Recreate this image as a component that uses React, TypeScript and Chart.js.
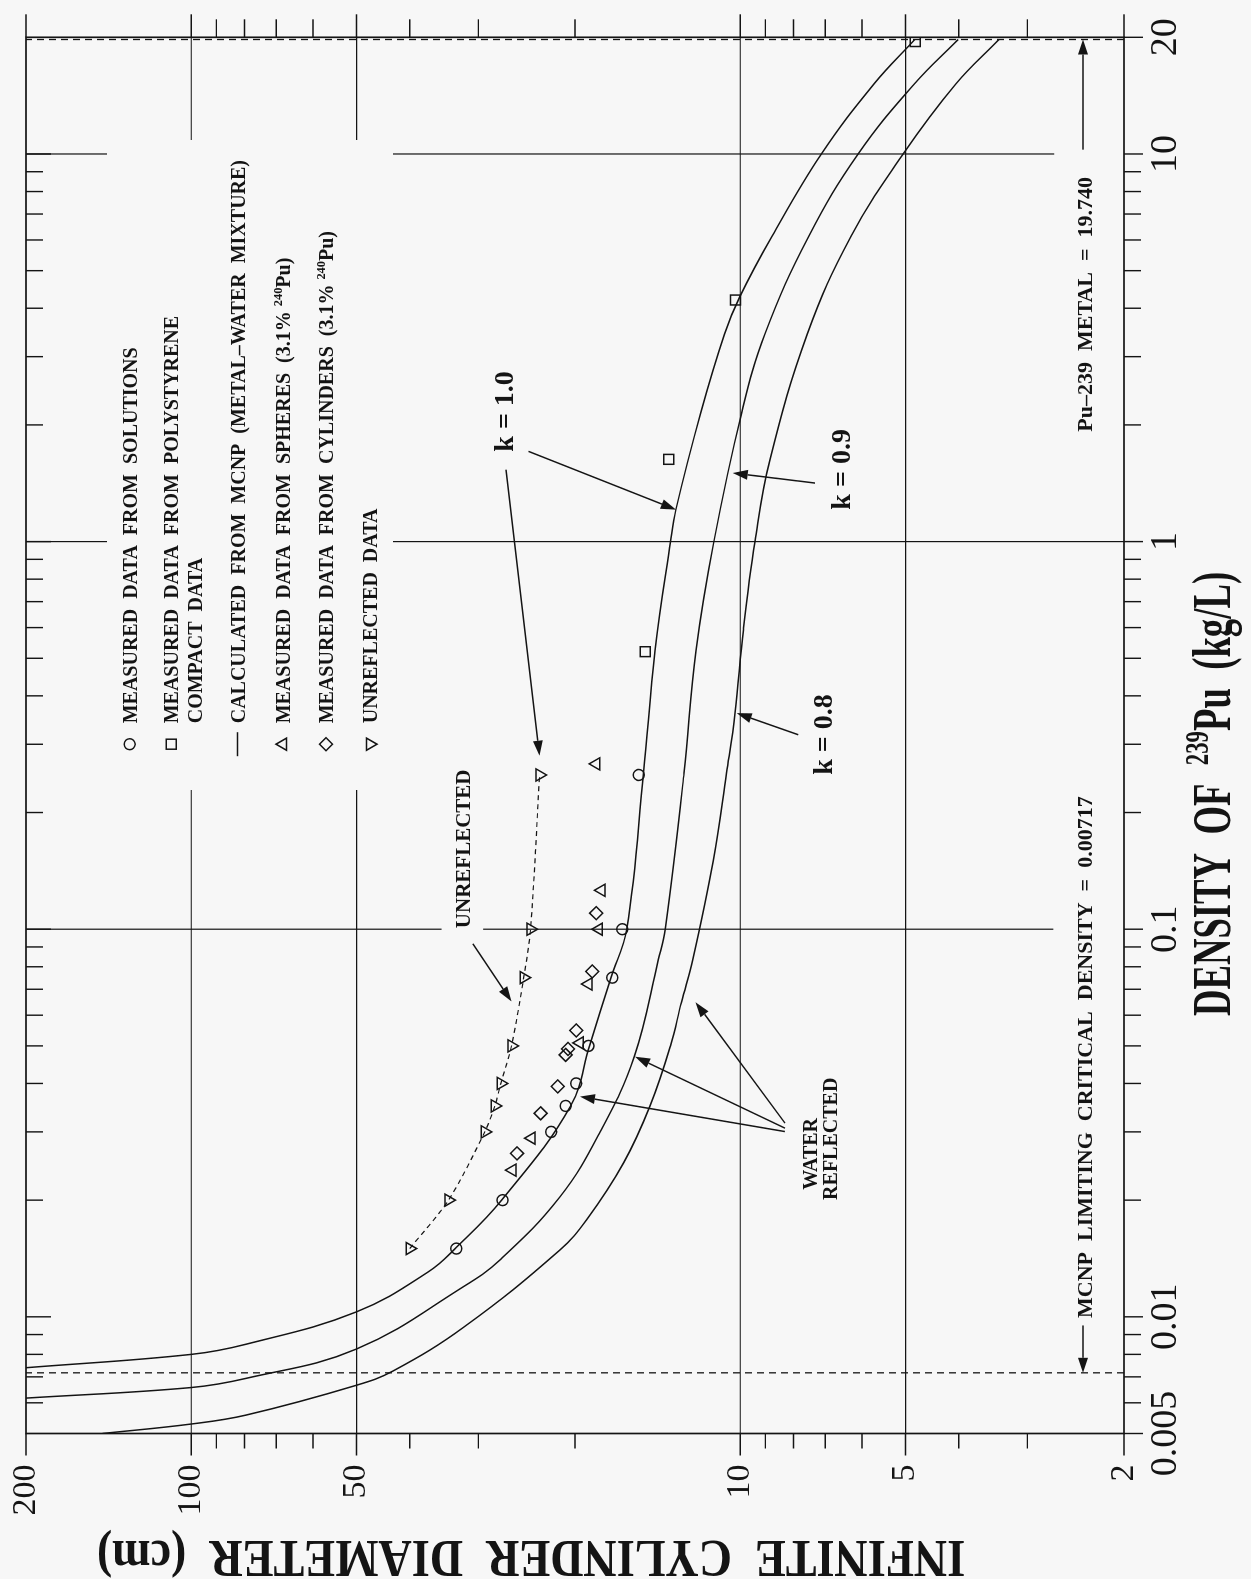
import React, { useEffect, useRef } from 'react';
import { Chart, registerables } from 'chart.js';

Chart.register(...registerables);

// ---------------- data: density of 239Pu (kg/L)  vs  infinite cylinder diameter (cm) ----------------
const K10_DENSITY = [0.00739, 0.008, 0.0085, 0.0103, 0.01308, 0.0151, 0.02, 0.0349, 0.0502, 0.075, 0.1, 0.253, 0.523, 1.0, 1.209, 2.15, 3.43, 4.28, 6.14, 10, 15.15, 19.74];
const K10_DIAMETER = [200, 100, 79.4, 50, 36.96, 32.9, 27.2, 20.4, 18.8, 17.2, 16.1, 15.0, 14.3, 13.4, 13.1, 11.8, 10.68, 10.02, 8.75, 7.12, 5.71, 4.81];

const K09_DENSITY = [0.00617, 0.00657, 0.00694, 0.00826, 0.01197, 0.01402, 0.0204, 0.03, 0.0469, 0.0834, 0.1, 0.253, 0.523, 1.0, 2.15, 3.43, 6.14, 10, 15.15, 19.74];
const K09_DIAMETER = [200, 100, 79.4, 50, 31.9, 27.4, 21.3, 18.0, 15.6, 14.1, 13.7, 12.66, 12.04, 11.17, 9.94, 9.02, 7.5, 6.1, 4.82, 4.01];

const K08_DENSITY = [0.005, 0.00529, 0.00558, 0.00666, 0.00725, 0.00943, 0.01488, 0.0178, 0.025, 0.035, 0.05, 0.0648, 0.0834, 0.15, 0.253, 0.361, 0.592, 1.0, 1.627, 3.43, 6.14, 10, 15.15, 19.74];
const K08_DIAMETER = [145, 100, 79.4, 50, 42.9, 31.8, 21.3, 19.05, 16.3, 14.6, 13.4, 12.8, 12.2, 11.2, 10.59, 10.22, 9.87, 9.4, 8.83, 7.55, 6.28, 5.05, 4.05, 3.38];

const UNREF_DENSITY = [0.015, 0.02, 0.03, 0.035, 0.04, 0.05, 0.075, 0.1, 0.25];
const UNREF_DIAMETER = [40.0, 34.0, 29.2, 28.0, 27.3, 26.1, 24.8, 24.1, 23.2];

const SOL_DENSITY = [0.015, 0.02, 0.03, 0.035, 0.04, 0.05, 0.075, 0.1, 0.25];
const SOL_DIAMETER = [32.9, 27.1, 22.1, 20.8, 19.9, 18.9, 17.1, 16.4, 15.3];

const POLY_DENSITY = [0.52, 1.63, 4.2, 19.5];
const POLY_DIAMETER = [14.9, 13.5, 10.2, 4.8];

const SPH_DENSITY = [0.0239, 0.0289, 0.0509, 0.0722, 0.1, 0.126, 0.267];
const SPH_DIAMETER = [26.0, 24.0, 19.6, 18.9, 18.1, 17.9, 18.3];

const CYL_DENSITY = [0.0264, 0.0335, 0.0393, 0.0474, 0.0491, 0.0548, 0.0778, 0.11];
const CYL_DIAMETER = [25.5, 23.1, 21.5, 20.8, 20.6, 19.9, 18.6, 18.3];

const LIMIT_DENSITY = 0.00717;
const METAL_DENSITY = 19.74;

const X_MIN = 0.005, X_MAX = 20, Y_MIN = 2, Y_MAX = 200;
const X_TICKS = [0.005, 0.01, 0.1, 1, 10, 20];
const X_TICK_LABELS = ['0.005', '0.01', '0.1', '1', '10', '20'];
const X_MAJOR = [0.01, 0.1, 1, 10];
const X_MINOR = [0.006, 0.007, 0.008, 0.009, 0.02, 0.03, 0.04, 0.05, 0.06, 0.07, 0.08, 0.09, 0.2, 0.3, 0.4, 0.5, 0.6, 0.7, 0.8, 0.9, 2, 3, 4, 5, 6, 7, 8, 9];
const X_GRID = [0.1, 1, 10];
const Y_TICKS = [2, 5, 10, 50, 100, 200];
const Y_TICK_LABELS = ['2', '5', '10', '50', '100', '200'];
const Y_MINOR = [3, 4, 6, 7, 8, 9, 20, 30, 40, 60, 70, 80, 90];
const Y_GRID = [5, 10, 50, 100];

// ---------------- style ----------------
const SERIF = "'Liberation Serif', 'Times New Roman', serif";
const BG = '#f7f7f7';
const INK = '#141414';
const CW = 1579; // canvas drawn in the chart's own orientation, then turned -90deg
const CH = 1251;

type Part = [string, boolean?];

const pts = (xs: number[], ys: number[]) => xs.map((x, i) => ({ x, y: ys[i] }));

function drawRich(ctx: CanvasRenderingContext2D, parts: Part[], x: number, y: number, size: number, weight: string, align: 'left' | 'center' = 'left', sx = 1, rot = 0) {
  ctx.save();
  const font = (s: number) => `${weight} ${s}px ${SERIF}`;
  let w = 0;
  for (const [t, sup] of parts) { ctx.font = font(sup ? size * 0.62 : size); w += ctx.measureText(t).width; }
  ctx.translate(x, y);
  if (rot) ctx.rotate(rot);
  ctx.scale(sx, 1);
  ctx.textAlign = 'left';
  ctx.textBaseline = 'alphabetic';
  ctx.fillStyle = INK;
  let cx = align === 'center' ? -w / 2 : 0;
  for (const [t, sup] of parts) {
    ctx.font = font(sup ? size * 0.62 : size);
    ctx.fillText(t, cx, sup ? -size * 0.4 : 0);
    cx += ctx.measureText(t).width;
  }
  ctx.restore();
}

function arrow(ctx: CanvasRenderingContext2D, x1: number, y1: number, x2: number, y2: number, head = 15, half = 5) {
  const a = Math.atan2(y2 - y1, x2 - x1);
  const bx = x2 - head * Math.cos(a), by = y2 - head * Math.sin(a);
  ctx.beginPath(); ctx.moveTo(x1, y1); ctx.lineTo(bx, by); ctx.stroke();
  ctx.beginPath();
  ctx.moveTo(x2, y2);
  ctx.lineTo(bx + half * Math.sin(a), by - half * Math.cos(a));
  ctx.lineTo(bx - half * Math.sin(a), by + half * Math.cos(a));
  ctx.closePath(); ctx.fill();
}

function marker(ctx: CanvasRenderingContext2D, kind: string, x: number, y: number) {
  ctx.beginPath();
  if (kind === 'circle') ctx.arc(x, y, 5.5, 0, Math.PI * 2);
  else if (kind === 'rect') ctx.rect(x - 5, y - 5, 10, 10);
  else if (kind === 'line') { ctx.moveTo(x - 12, y); ctx.lineTo(x + 12, y); }
  else if (kind === 'triangle') { ctx.moveTo(x, y - 7); ctx.lineTo(x + 6.1, y + 3.5); ctx.lineTo(x - 6.1, y + 3.5); ctx.closePath(); }
  else if (kind === 'triangleDown') { ctx.moveTo(x, y + 7); ctx.lineTo(x + 6.1, y - 3.5); ctx.lineTo(x - 6.1, y - 3.5); ctx.closePath(); }
  else if (kind === 'rectRot') { ctx.moveTo(x, y - 6.5); ctx.lineTo(x + 6.5, y); ctx.lineTo(x, y + 6.5); ctx.lineTo(x - 6.5, y); ctx.closePath(); }
  ctx.stroke();
}

const LEGEND: { mark: string; lines: Part[][] }[] = [
  { mark: 'circle', lines: [[['MEASURED  DATA  FROM  SOLUTIONS']]] },
  { mark: 'rect', lines: [[['MEASURED  DATA  FROM  POLYSTYRENE']], [['COMPACT  DATA']]] },
  { mark: 'line', lines: [[['CALCULATED  FROM  MCNP  (METAL–WATER  MIXTURE)']]] },
  { mark: 'triangle', lines: [[['MEASURED  DATA  FROM  SPHERES  (3.1% '], ['240', true], ['Pu)']]] },
  { mark: 'rectRot', lines: [[['MEASURED  DATA  FROM  CYLINDERS  (3.1% '], ['240', true], ['Pu)']]] },
  { mark: 'triangleDown', lines: [[['UNREFLECTED  DATA']]] },
];
const LEGEND_BASELINES = [[110.7], [152.3, 175.7], [218.5], [264], [307], [351]];

const decor = {
  id: 'decor',
  beforeDraw(chart: any) {
    const { ctx, width, height } = chart;
    ctx.save(); ctx.fillStyle = BG; ctx.fillRect(0, 0, width, height); ctx.restore();
  },
  beforeDatasetsDraw(chart: any) {
    const { ctx, chartArea: a, scales } = chart;
    const xs = scales.x, ys = scales.y;
    ctx.save();
    ctx.strokeStyle = INK; ctx.lineWidth = 1.2;
    ctx.beginPath();
    X_GRID.forEach((v) => { const p = xs.getPixelForValue(v); ctx.moveTo(p, a.top); ctx.lineTo(p, a.bottom); });
    Y_GRID.forEach((v) => { const p = ys.getPixelForValue(v); ctx.moveTo(a.left, p); ctx.lineTo(a.right, p); });
    ctx.stroke();
    // blank boxes behind the labels
    ctx.fillStyle = BG;
    const box = (D1: number, D2: number, d1: number, d2: number) => {
      const x1 = xs.getPixelForValue(D1), x2 = xs.getPixelForValue(D2);
      const y1 = ys.getPixelForValue(d1), y2 = ys.getPixelForValue(d2);
      ctx.fillRect(Math.min(x1, x2), Math.min(y1, y2), Math.abs(x2 - x1), Math.abs(y2 - y1));
    };
    box(0.0972, 0.265, 35.0, 29.4); // UNREFLECTED
    box(0.0096, 0.23, 2.69, 2); // MCNP limiting
    box(1.83, 18.65, 2.68, 2); // Pu-239 metal
    ctx.fillRect(a.left + 643.5, a.top + 81, 650, 286); // legend
    ctx.restore();
  },
  afterDraw(chart: any) {
    const { ctx, chartArea: a, scales } = chart;
    const xs = scales.x, ys = scales.y;
    const P = (D: number, d: number) => [xs.getPixelForValue(D), ys.getPixelForValue(d)] as [number, number];
    ctx.save();
    ctx.strokeStyle = INK; ctx.fillStyle = INK;
    // frame
    ctx.lineWidth = 1.7;
    ctx.strokeRect(a.left, a.top, a.right - a.left, a.bottom - a.top);
    // ticks
    ctx.lineWidth = 1.4;
    ctx.beginPath();
    X_MINOR.forEach((v) => {
      const p = xs.getPixelForValue(v);
      ctx.moveTo(p, a.top); ctx.lineTo(p, a.top + 17);
      ctx.moveTo(p, a.bottom); ctx.lineTo(p, a.bottom + 17);
    });
    X_MAJOR.forEach((v) => {
      const p = xs.getPixelForValue(v);
      ctx.moveTo(p, a.top); ctx.lineTo(p, a.top + 25);
      ctx.moveTo(p, a.bottom); ctx.lineTo(p, a.bottom + 19);
    });
    [X_MIN, X_MAX].forEach((v) => { const p = xs.getPixelForValue(v); ctx.moveTo(p, a.bottom); ctx.lineTo(p, a.bottom + 19); });
    Y_MINOR.forEach((v) => {
      const p = ys.getPixelForValue(v);
      ctx.moveTo(a.left, p); ctx.lineTo(a.left - 15, p);
      ctx.moveTo(a.right, p); ctx.lineTo(a.right + 18, p);
    });
    Y_TICKS.forEach((v) => {
      const p = ys.getPixelForValue(v);
      ctx.moveTo(a.left, p); ctx.lineTo(a.left - 22, p);
      ctx.moveTo(a.right, p); ctx.lineTo(a.right + 23, p);
    });
    ctx.stroke();

    // arrows
    ctx.lineWidth = 1.5;
    const arr = (f: [number, number], t: [number, number]) => { const p1 = P(f[0], f[1]); const p2 = P(t[0], t[1]); arrow(ctx, p1[0], p1[1], p2[0], p2[1]); };
    arr([1.709, 24.3], [1.209, 13.1]);
    arr([1.533, 26.7], [0.2803, 23.2]);
    arr([1.416, 7.31], [1.503, 10.32]);
    arr([0.3175, 7.84], [0.361, 10.15]);
    arr([0.0917, 30.7], [0.0651, 26.1]);
    arr([0.03006, 8.29], [0.037, 19.59]);
    arr([0.03067, 8.29], [0.0469, 15.55]);
    arr([0.0316, 8.29], [0.0648, 12.06]);
    arr([0.0095, 2.376], [LIMIT_DENSITY, 2.376]);
    arr([10.26, 2.376], [METAL_DENSITY, 2.376]);

    // annotation texts
    const txt = (parts: Part[], D: number, d: number, size: number) => { const p = P(D, d); drawRich(ctx, parts, p[0], p[1], size, 'bold'); };
    txt([['k = 1.0']], 1.706, 25.9, 28);
    txt([['k = 0.9']], 1.209, 6.31, 28);
    txt([['k = 0.8']], 0.2503, 6.82, 28);
    txt([['UNREFLECTED']], 0.1006, 31.07, 21);
    txt([['WATER']], 0.02126, 7.26, 20);
    txt([['REFLECTED']], 0.02003, 6.675, 20);
    txt([['MCNP  LIMITING  CRITICAL  DENSITY  =  0.00717']], 0.00993, 2.288, 22);
    txt([['Pu–239  METAL  =  19.740']], 1.921, 2.288, 22);

    // legend
    ctx.lineWidth = 1.5;
    LEGEND.forEach((row, i) => {
      const bl = LEGEND_BASELINES[i];
      marker(ctx, row.mark, a.left + 689.3, a.top + bl[0] - 7);
      row.lines.forEach((ln, j) => drawRich(ctx, ln, a.left + 710.2, a.top + bl[j], 20, 'bold'));
    });

    // axis titles
    drawRich(ctx, [['DENSITY  OF  '], ['239', true], ['Pu  (kg/L)']], a.left + 639.5, a.bottom + 106, 54, 'bold', 'center', 0.68);
    drawRich(ctx, [['INFINITE  CYLINDER  DIAMETER  (cm)']], a.left - 107.5, a.top + 505, 53, 'bold', 'center', 0.87, -Math.PI / 2);
    ctx.restore();
  },
};

function makeConfig(): any {
  const curve = (label: string, xs: number[], ys: number[]) => ({
    label, data: pts(xs, ys), showLine: true, borderColor: INK, borderWidth: 1.5,
    pointRadius: 0, tension: 0.4, fill: false,
  });
  const marks = (label: string, xs: number[], ys: number[], style: string, r: number, rot = 0) => ({
    label, data: pts(xs, ys), showLine: false, pointStyle: style, pointRadius: r, pointRotation: rot,
    pointBorderColor: INK, pointBorderWidth: 1.5, pointBackgroundColor: 'rgba(0,0,0,0)',
  });
  const vline = (label: string, D: number) => ({
    label, data: [{ x: D, y: Y_MIN }, { x: D, y: Y_MAX }], showLine: true, borderColor: INK,
    borderWidth: 1.3, borderDash: [7, 5], pointRadius: 0, tension: 0,
  });
  return {
    type: 'scatter',
    data: {
      datasets: [
        vline('MCNP limiting critical density', LIMIT_DENSITY),
        vline('Pu-239 metal', METAL_DENSITY),
        curve('k = 1.0', K10_DENSITY, K10_DIAMETER),
        curve('k = 0.9', K09_DENSITY, K09_DIAMETER),
        curve('k = 0.8', K08_DENSITY, K08_DIAMETER),
        { ...curve('Unreflected', UNREF_DENSITY, UNREF_DIAMETER), borderWidth: 1.2, borderDash: [5, 4], tension: 0.3 },
        marks('Measured data from solutions', SOL_DENSITY, SOL_DIAMETER, 'circle', 5.5),
        marks('Measured data from polystyrene compact data', POLY_DENSITY, POLY_DIAMETER, 'rect', 7),
        marks('Measured data from spheres', SPH_DENSITY, SPH_DIAMETER, 'triangle', 7),
        marks('Measured data from cylinders', CYL_DENSITY, CYL_DIAMETER, 'rectRot', 6.5),
        marks('Unreflected data', UNREF_DENSITY, UNREF_DIAMETER, 'triangle', 7, 180),
      ],
    },
    options: {
      animation: false,
      responsive: false,
      maintainAspectRatio: false,
      devicePixelRatio: 1,
      layout: { padding: { top: 26, right: 37.3, left: 0, bottom: 0 } },
      plugins: { legend: { display: false }, tooltip: { enabled: false } },
      scales: {
        x: {
          type: 'logarithmic', position: 'bottom', min: X_MIN, max: X_MAX,
          grid: { display: false, drawTicks: false }, border: { display: false },
          afterBuildTicks: (s: any) => { s.ticks = X_TICKS.map((value) => ({ value })); },
          afterFit: (s: any) => { s.height = 127; s.paddingLeft = 0; s.paddingRight = 0; },
          ticks: {
            autoSkip: false, maxRotation: 0, minRotation: 0, padding: 19, color: INK,
            font: { family: SERIF, size: 38 },
            callback: (v: number) => { const i = X_TICKS.indexOf(v); return i >= 0 ? X_TICK_LABELS[i] : ''; },
          },
        },
        y: {
          type: 'logarithmic', position: 'left', min: Y_MIN, max: Y_MAX,
          grid: { display: false, drawTicks: false }, border: { display: false },
          afterBuildTicks: (s: any) => { s.ticks = Y_TICKS.map((value) => ({ value })); },
          afterFit: (s: any) => { s.width = 145.5; s.paddingTop = 0; s.paddingBottom = 0; },
          ticks: {
            autoSkip: false, padding: 31, color: INK,
            font: { family: SERIF, size: 34 },
            callback: (v: number) => { const i = Y_TICKS.indexOf(v); return i >= 0 ? Y_TICK_LABELS[i] : ''; },
          },
        },
      },
    },
    plugins: [decor],
  };
}

export default function App() {
  const ref = useRef<HTMLCanvasElement>(null);
  useEffect(() => {
    const canvas = ref.current;
    if (!canvas) return;
    const chart = new Chart(canvas, makeConfig());
    return () => chart.destroy();
  }, []);
  return (
    <div style={{ position: 'absolute', left: 0, top: 0, width: CH, height: CW, overflow: 'hidden', background: BG }}>
      <canvas
        ref={ref}
        width={CW}
        height={CH}
        style={{
          position: 'absolute', left: 0, top: 0, width: CW, height: CH,
          transformOrigin: '0 0', transform: `translate(0px, ${CW}px) rotate(-90deg)`,
        }}
      />
    </div>
  );
}
